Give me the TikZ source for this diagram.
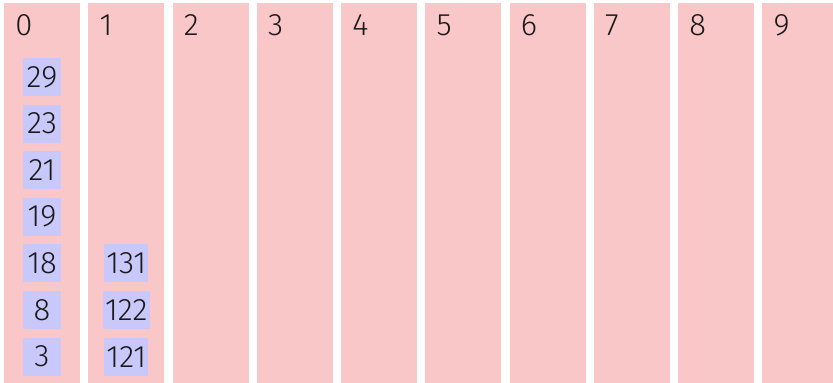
\documentclass[tikz,border=0pt]{standalone}
\usepackage{fontspec}
\setmainfont{Fira Sans}[UprightFont=* Light]
\definecolor{bucketpink}{RGB}{249,199,200}
\definecolor{itemblue}{RGB}{200,200,250}
\begin{document}
\begin{tikzpicture}[
        x=0.5pt,
        y=-0.5pt,
        font=\fontsize{15.5}{18}\selectfont,
        bucket/.style={fill=bucketpink, draw=none},
        bucketlabel/.style={anchor=base west, inner sep=0pt, text=black!90},
        item/.style={fill=itemblue, inner xsep=1pt, inner ysep=0pt,
            minimum width=19pt, minimum height=19pt, text=black!90}
    ]

    \useasboundingbox (0,0) rectangle (833,382);
    \clip (0,0) rectangle (833,382);

    % Buckets
    \fill[bucket] (4,3) rectangle (80,390);
    \fill[bucket] (88.25,3) rectangle (164.25,390);
    \fill[bucket] (172.5,3) rectangle (248.5,390);
    \fill[bucket] (256.75,3) rectangle (332.75,390);
    \fill[bucket] (341,3) rectangle (417,390);
    \fill[bucket] (425.25,3) rectangle (501.25,390);
    \fill[bucket] (509.5,3) rectangle (585.5,390);
    \fill[bucket] (593.75,3) rectangle (669.75,390);
    \fill[bucket] (678,3) rectangle (754,390);
    \fill[bucket] (762.25,3) rectangle (838.25,390);

    % Bucket labels
    \node[bucketlabel] (l0) at (15,35.5) {0};
    \node[bucketlabel] (l1) at (99.25,35.5) {1};
    \node[bucketlabel] (l2) at (183.5,35.5) {2};
    \node[bucketlabel] (l3) at (267.75,35.5) {3};
    \node[bucketlabel] (l4) at (352,35.5) {4};
    \node[bucketlabel] (l5) at (436.25,35.5) {5};
    \node[bucketlabel] (l6) at (520.5,35.5) {6};
    \node[bucketlabel] (l7) at (604.75,35.5) {7};
    \node[bucketlabel] (l8) at (689,35.5) {8};
    \node[bucketlabel] (l9) at (773.25,35.5) {9};

    % Bucket 0
    \node[item] (b0-29) at (42,77) {29};
    \node[item] (b0-23) at (42,123.6) {23};
    \node[item] (b0-21) at (42,170.2) {21};
    \node[item] (b0-19) at (42,216.8) {19};
    \node[item] (b0-18) at (42,263.4) {18};
    \node[item] (b0-8) at (42,310) {8};
    \node[item] (b0-3) at (42,356.6) {3};

    % Bucket 1
    \node[item] (b1-131) at (126.25,263.4) {131};
    \node[item] (b1-122) at (126.25,310) {122};
    \node[item] (b1-121) at (126.25,356.6) {121};

\end{tikzpicture}
\end{document}
